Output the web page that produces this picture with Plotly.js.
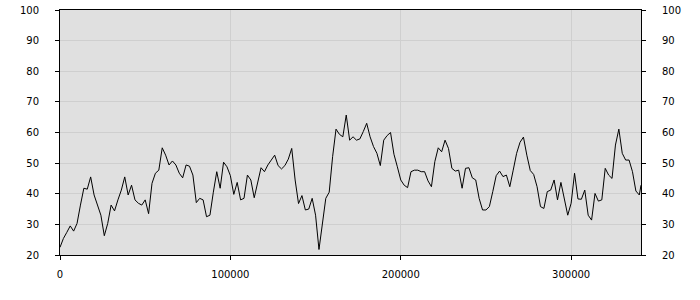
<!DOCTYPE html>
<html>
<head>
<meta charset="utf-8">
<script src="https://cdn.plot.ly/plotly-3.0.1.min.js"></script>
<style>html,body{margin:0;padding:0;background:#fff;}#chart{width:700px;height:300px;}</style>
</head>
<body>
<div id="chart"></div>
<script>
const xValues = [0,2000,4000,6000,8000,10000,12000,14000,16000,18000,
20000,22000,24000,26000,28000,30000,32000,34000,36000,38000,
40000,42000,44000,46000,48000,50000,52000,54000,56000,58000,
60000,62000,64000,66000,68000,70000,72000,74000,76000,78000,
80000,82000,84000,86000,88000,90000,92000,94000,96000,98000,
100000,102000,104000,106000,108000,110000,112000,114000,116000,118000,
120000,122000,124000,126000,128000,130000,132000,134000,136000,138000,
140000,142000,144000,146000,148000,150000,152000,154000,156000,158000,
160000,162000,164000,166000,168000,170000,172000,174000,176000,178000,
180000,182000,184000,186000,188000,190000,192000,194000,196000,198000,
200000,202000,204000,206000,208000,210000,212000,214000,216000,218000,
220000,222000,224000,226000,228000,230000,232000,234000,236000,238000,
240000,242000,244000,246000,248000,250000,252000,254000,256000,258000,
260000,262000,264000,266000,268000,270000,272000,274000,276000,278000,
280000,282000,284000,286000,288000,290000,292000,294000,296000,298000,
300000,302000,304000,306000,308000,310000,312000,314000,316000,318000,
320000,322000,324000,326000,328000,330000,332000,334000,336000,338000,
340000,341000];
const yValues = [22.5,25.4,27.4,29.5,27.8,30.3,36.3,41.8,41.5,45.5,
39.6,36.3,33,26.3,30.3,36.3,34.4,38,41.2,45.5,
39.6,42.8,38,36.9,36.3,38,33.5,43.4,46.7,47.7,
55,52.6,49.4,50.7,49.4,46.7,45.2,49.4,49,46.1,
37.1,38.5,38,32.5,33,40.5,47.2,41.8,50.3,48.8,
45.9,39.8,43.7,38,38.5,46.1,44.5,38.7,43.9,48.5,
47.2,49.4,51,52.6,49.2,48.1,49.2,51.3,54.8,44.5,
36.8,39.4,34.7,35,38.5,33,21.8,30.9,38.5,40.5,
52.1,61.1,59.4,58.6,65.7,57.5,58.6,57.5,57.9,60.3,
63,58.6,55.4,53.2,49.2,57.5,59,60,52.9,48.8,
44.5,42.8,42,47.2,47.7,47.7,47.2,47.2,44.2,42.3,
50.5,55,53.7,57.5,54.8,48.3,47.4,47.7,41.8,48.3,
48.5,45.2,44.5,38.5,34.7,34.7,35.8,40.7,45.9,47.4,
45.6,46.1,42.3,47.7,53.2,56.8,58.5,52.6,47.6,46.3,
42.3,35.8,35.2,40.7,41.2,44.5,38,43.7,38,33,
36.9,46.7,38.3,38.2,41.2,33,31.4,40.1,37.6,38,
48.3,46.1,45,55.9,61.1,53.2,51,51,47.2,40.9,
39.6,42.8];
const yTicks = [20,30,40,50,60,70,80,90,100];
const xTicks = [0,100000,200000,300000];
const xTickLabels = ['0','100000','200000','300000'];

const font = {family: 'DejaVu Sans, Verdana, sans-serif', size: 10, color: '#000'};
const traces = [
  {x: xValues, y: yValues, type: 'scatter', mode: 'lines',
   line: {color: '#000', width: 1}, hoverinfo: 'skip', showlegend: false},
  {x: xValues, y: yValues, type: 'scatter', mode: 'lines', yaxis: 'y2',
   line: {color: 'rgba(0,0,0,0)', width: 0}, hoverinfo: 'skip', showlegend: false}
];
const yCommon = {
  range: [20, 100], tickvals: yTicks, ticktext: yTicks.map(String),
  ticks: 'outside', ticklen: 4, tickcolor: '#000', tickfont: font,
  showline: true, linecolor: '#000', linewidth: 1, zeroline: false,
  fixedrange: true, ticklabelstandoff: 14
};
const layout = {
  width: 700, height: 300,
  margin: {l: 60, r: 59, t: 10, b: 45, pad: 0},
  paper_bgcolor: '#ffffff', plot_bgcolor: '#e0e0e0',
  font: font,
  showlegend: false,
  xaxis: {
    range: [0, 341000], tickvals: xTicks, ticktext: xTickLabels,
    ticks: 'outside', ticklen: 4, tickcolor: '#000', tickfont: font,
    showline: true, mirror: true, linecolor: '#000', linewidth: 1,
    showgrid: true, gridcolor: '#cfcfcf', gridwidth: 1, zeroline: false,
    ticklabelstandoff: 6
  },
  yaxis: Object.assign({}, yCommon, {side: 'left', showgrid: true, gridcolor: '#cfcfcf', gridwidth: 1}),
  yaxis2: Object.assign({}, yCommon, {side: 'right', overlaying: 'y', showgrid: false})
};
Plotly.newPlot('chart', traces, layout, {staticPlot: true, displayModeBar: false});
</script>
</body>
</html>
